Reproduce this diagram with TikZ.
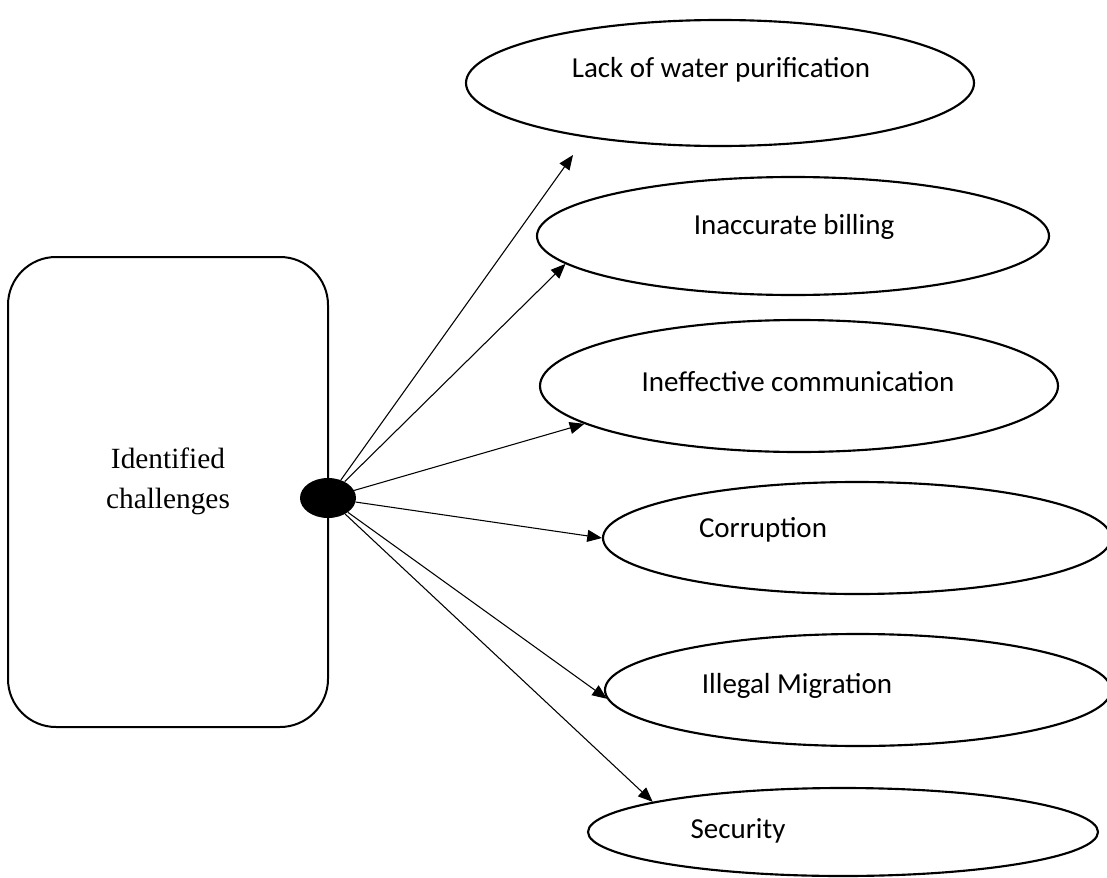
\documentclass[tikz,border=0pt]{standalone}
\usepackage{fontspec}
\setmainfont{Liberation Serif}
\newfontfamily\issuefont{Carlito}
\usetikzlibrary{arrows.meta,shapes.geometric}

\tikzset{
  issue/.style={ellipse,draw=black,line width=1.6pt,inner sep=0pt},
  issuetext/.style={font=\issuefont\fontsize{21.75}{26}\selectfont},
  link/.style={-{Triangle[length=11pt,width=9pt]},line width=0.8pt},
}

\begin{document}
\begin{tikzpicture}[x=0.75pt,y=-0.75pt]
\useasboundingbox (0,0) rectangle (1107,878);
\clip (0,0) rectangle (1107,878);
% source box and hub
\node[draw,line width=1.5pt,rounded corners=36pt,minimum width=240pt,minimum height=352.5pt,inner sep=0pt] (challenges) at (168,492) {};
\node[font=\fontsize{22}{30}\selectfont,align=center] (title) at (168,481) {Identified\\challenges};
\node[ellipse,fill=black,minimum width=42pt,minimum height=30pt,inner sep=0pt] (hub) at (328,498) {};
% challenge ellipses
\node[issue,minimum width=381pt,minimum height=94.5pt] (water) at (720,83) {};
\node[issue,minimum width=384pt,minimum height=88.5pt] (billing) at (793,236) {};
\node[issue,minimum width=388.5pt,minimum height=99pt] (communication) at (799,386) {};
\node[issue,minimum width=381pt,minimum height=84pt] (corruption) at (857,538) {};
\node[issue,minimum width=379.5pt,minimum height=84pt] (migration) at (858,690) {};
\node[issue,minimum width=382.5pt,minimum height=66pt] (security) at (843,832) {};
\node[issuetext] (waterlbl) at (721,70) {Lack of water purification};
\node[issuetext] (billinglbl) at (794,227) {Inaccurate billing};
\node[issuetext] (communicationlbl) at (798,382) {Ineffective communication};
\node[issuetext] (corruptionlbl) at (763,530) {Corruption};
\node[issuetext] (migrationlbl) at (797,686) {Illegal Migration};
\node[issuetext] (securitylbl) at (738,831) {Security};
% arrows
\coordinate (watertip) at (573,155);
\draw[link] (hub) -- (watertip);
\draw[link] (hub) -- (billing.187.8);
\draw[link] (hub) -- (communication.190.2);
\draw[link] (hub) -- (corruption.180);
\draw[link] (hub) -- (migration.182);
\draw[link] (hub) -- (security.171);
\end{tikzpicture}
\end{document}
